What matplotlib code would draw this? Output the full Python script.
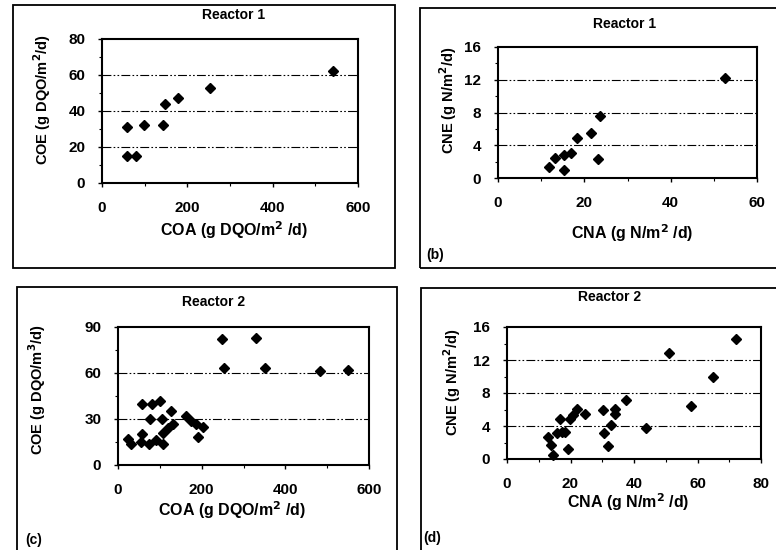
import matplotlib
matplotlib.use('Agg')
import matplotlib.pyplot as plt
from matplotlib.patches import Rectangle
from matplotlib.ticker import MultipleLocator

plt.rcParams['font.family'] = ['Liberation Sans', 'DejaVu Sans']
plt.rcParams['font.weight'] = 'bold'
plt.rcParams['mathtext.default'] = 'bf'

W, H = 776, 550

# Reactor 1 - organic load (COA vs COE)
r1_coa = [59, 59, 80, 99, 143, 148, 177, 254, 541]
r1_coe = [31, 15, 15, 32, 32, 44, 47, 53, 62]

# Reactor 1 - nitrogen load (CNA vs CNE)
r1_cna = [11.9, 13.1, 15.3, 15.4, 16.8, 18.3, 21.5, 23.6, 23.2, 52.5]
r1_cne = [1.4, 2.5, 1.0, 2.8, 3.0, 4.9, 5.5, 7.6, 2.3, 12.2]

# Reactor 2 - organic load
r2_coa = [24, 32, 57, 56, 58, 74, 76, 82, 92, 100, 104, 108, 108, 120,
          126, 131, 162, 175, 186, 191, 202, 249, 253, 331, 352, 484, 550]
r2_coe = [17, 14, 40, 15, 20, 14, 30, 40, 16, 42, 30, 14, 21, 24,
          35, 27, 32, 29, 27, 18, 25, 82, 63, 83, 63, 61, 62]

# Reactor 2 - nitrogen load
r2_cna = [13.0, 14.0, 14.6, 15.6, 16.7, 17.2, 18.2, 19.3, 19.8, 20.8, 22.1, 24.5,
          30.2, 30.6, 32.9, 31.8, 34.0, 34.0, 37.4, 43.9, 51.0, 58.1, 64.9, 72.2]
r2_cne = [2.7, 1.7, 0.5, 3.1, 4.8, 3.3, 3.3, 1.2, 4.9, 5.3, 6.1, 5.4,
          5.9, 3.2, 4.1, 1.6, 6.1, 5.4, 7.2, 3.7, 12.8, 6.4, 10.0, 14.5]

fig = plt.figure(figsize=(W / 100, H / 100), dpi=100)
fig.patch.set_facecolor('white')


def rect(l, t, r, b):
    return [l / W, 1 - b / H, (r - l) / W, (b - t) / H]


def ftext(x, y, s, **kw):
    fig.text(x / W, 1 - y / H, s, ha='center', va='center', fontweight='bold', **kw)


# panel frames (scanned page boxes)
for l, t, r, b in [(13, 5, 395, 268), (420, 8, 785, 268), (17, 287, 397, 560), (421, 288, 785, 560)]:
    fig.patches.append(Rectangle((l / W, 1 - b / H), (r - l) / W, (b - t) / H,
                                 transform=fig.transFigure, fill=False, ec='black', lw=1.3))

panels = [
    dict(pos=(102, 39, 358, 183), x=r1_coa, y=r1_coe, xmax=600, xstep=200, ymax=80, ystep=20,
         title=(234, 15, 'Reactor 1'), ylab=(42, 100, 'COE (g DQO/m$^{2}$/d)'),
         xlab=(234, 230, 'COA (g DQO/m$^{2}$ /d)'), tag=None),
    dict(pos=(498, 47, 757, 178), x=r1_cna, y=r1_cne, xmax=60, xstep=20, ymax=16, ystep=4,
         title=(625, 24, 'Reactor 1'), ylab=(448, 100, 'CNE (g N/m$^{2}$/d)'),
         xlab=(632, 233, 'CNA (g N/m$^{2}$ /d)'), tag=(435, 255, '(b)')),
    dict(pos=(118, 327, 369, 465), x=r2_coa, y=r2_coe, xmax=600, xstep=200, ymax=90, ystep=30,
         title=(213, 302, 'Reactor 2'), ylab=(37, 390, 'COE (g DQO/m$^{3}$/d)'),
         xlab=(232, 510, 'COA (g DQO/m$^{2}$ /d)'), tag=(34, 540, '(c)')),
    dict(pos=(507, 327, 761, 459), x=r2_cna, y=r2_cne, xmax=80, xstep=20, ymax=16, ystep=4,
         title=(610, 297, 'Reactor 2'), ylab=(452, 382, 'CNE (g N/m$^{2}$/d)'),
         xlab=(628, 502, 'CNA (g N/m$^{2}$ /d)'), tag=(432, 538, '(d)')),
]

for p in panels:
    ax = fig.add_axes(rect(*p['pos']))
    ax.set_xlim(0, p['xmax'])
    ax.set_ylim(0, p['ymax'])
    ax.xaxis.set_major_locator(MultipleLocator(p['xstep']))
    ax.xaxis.set_minor_locator(MultipleLocator(p['xstep'] / 2))
    ax.yaxis.set_major_locator(MultipleLocator(p['ystep']))
    ax.yaxis.set_minor_locator(MultipleLocator(p['ystep'] / 2))
    ax.tick_params(which='major', direction='out', length=3, width=1, labelsize=11, pad=10)
    ax.tick_params(axis='y', which='major', pad=9)
    ax.tick_params(which='minor', direction='out', length=2, width=0.8)
    for lab in ax.get_xticklabels() + ax.get_yticklabels():
        lab.set_fontweight('bold')
    for sp in ax.spines.values():
        sp.set_linewidth(1.5)
    # dash-dot gridlines at the inner major ticks
    for v in range(p['ystep'], p['ymax'], p['ystep']):
        ax.axhline(v, color='black', lw=0.8, dashes=(8, 2, 1.5, 2, 1.5, 2), zorder=1)
    ax.plot(p['x'], p['y'], 'D', color='black', ms=5.5, zorder=3, clip_on=False)

    tx, ty, ts = p['title']
    ftext(tx, ty, ts, fontsize=10)
    lx, ly, ls = p['ylab']
    ftext(lx, ly, ls, fontsize=10.5, rotation=90)
    xx, xy, xs = p['xlab']
    ftext(xx, xy, xs, fontsize=11.5)
    if p['tag']:
        gx, gy, gs = p['tag']
        ftext(gx, gy, gs, fontsize=10)

plt.savefig('out.png', dpi=100)
